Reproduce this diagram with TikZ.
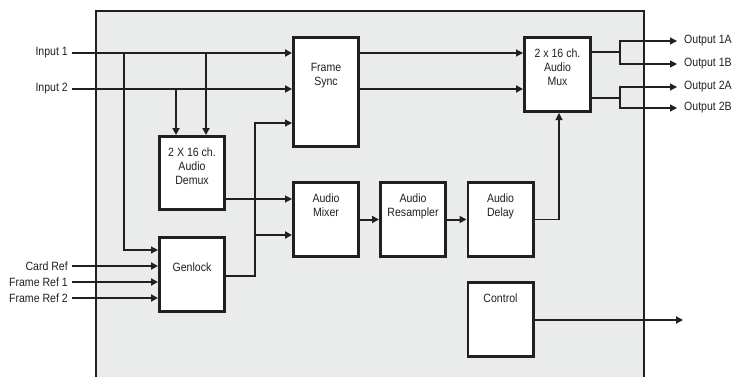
\documentclass[tikz,border=0pt]{standalone}
\usepackage{fontspec}
\setmainfont{Liberation Sans}[FakeStretch=0.88]
\usetikzlibrary{arrows.meta}
\definecolor{panel}{HTML}{EAEBEB}
\definecolor{ink}{HTML}{231F20}
\tikzset{
  txt/.style={font=\fontsize{12}{14}\selectfont, align=center, text=ink},
  blk/.style={draw=ink, line width=2.7pt, fill=white, inner sep=0pt,
    minimum width=65.3pt, minimum height=74.3pt},
  toptext/.style={label={[txt,anchor=north,yshift=-9.4pt]north:#1}},
  midtext/.style={label={[txt,anchor=north,yshift=-23.4pt]north:#1}},
  thk/.style={draw=ink, line width=2pt},
  thn/.style={draw=ink, line width=1.1pt},
}
\begin{document}
\begin{tikzpicture}[x=1pt,y=-1pt,>={Triangle[length=7pt,width=7pt]}]
  \useasboundingbox (0,0) rectangle (735,377);
  % card outline
  \fill[panel] (96,11) rectangle (644,377);
  \draw[thn] (96,377) -- (96,11) -- (644,11) -- (644,377);

  % blocks
  \node[blk, minimum height=109.3pt, midtext={Frame\\Sync}] (fs) at (326,92) {};
  \node[blk, minimum width=66.3pt, toptext={2 x 16 ch.\\Audio\\Mux}] (mux) at (557.5,74.5) {};
  \node[blk, minimum height=73.3pt, toptext={2 X 16 ch.\\Audio\\Demux}] (demux) at (192,173) {};
  \node[blk, toptext={Audio\\Mixer}] (mix) at (326,219.5) {};
  \node[blk, toptext={Audio\\Resampler}] (res) at (413,219.5) {};
  \node[blk, toptext={Audio\\Delay}] (del) at (500.5,219.5) {};
  \node[blk, midtext={Genlock}] (gen) at (192,274.5) {};
  \node[blk, toptext={Control}] (ctl) at (500.5,319.5) {};

  % inputs
  \node[txt, anchor=east, inner xsep=4pt] (in1) at (72,53) {Input 1};
  \node[txt, anchor=east, inner xsep=4pt] (in2) at (72,89) {Input 2};
  \node[txt, anchor=east, inner xsep=4pt] (cref) at (72,266) {Card Ref};
  \node[txt, anchor=east, inner xsep=4pt] (fref1) at (72,282) {Frame Ref 1};
  \node[txt, anchor=east, inner xsep=4pt] (fref2) at (72,298) {Frame Ref 2};

  % outputs
  \node[txt, anchor=west, inner xsep=7pt] (out1a) at (677,41) {Output 1A};
  \node[txt, anchor=west, inner xsep=7pt] (out1b) at (677,64) {Output 1B};
  \node[txt, anchor=west, inner xsep=7pt] (out2a) at (677,87) {Output 2A};
  \node[txt, anchor=west, inner xsep=7pt] (out2b) at (677,108) {Output 2B};

  % branch points
  \coordinate (j1) at (124,53);
  \coordinate (j2) at (206,53);
  \coordinate (j3) at (176,89);
  \coordinate (j4) at (255,276);
  \coordinate (j5) at (255,235);
  \coordinate (s1) at (620,52);
  \coordinate (s2) at (620,98);
  \coordinate (ctlout) at (683,320);

  % video path
  \draw[thk,->] (in1) -- (fs.west |- in1);
  \draw[thk,->] (in2) -- (fs.west |- in2);
  \draw[thn,->] (j1) |- (gen.west |- 0,250);
  \draw[thk,->] (j2) -- (j2 |- demux.north);
  \draw[thk,->] (j3) -- (j3 |- demux.north);
  \draw[thk,->] (cref) -- (gen.west |- cref);
  \draw[thk,->] (fref1) -- (gen.west |- fref1);
  \draw[thk,->] (fref2) -- (gen.west |- fref2);
  \draw[thn,->] (gen.east |- j4) -- (j4) |- (fs.west |- 0,123);
  \draw[thk,->] (j5) -- (mix.west |- j5);
  \draw[thn,->] (fs.east |- in1) -- (mux.west |- in1);
  \draw[thk,->] (fs.east |- in2) -- (mux.west |- in2);

  % audio path
  \draw[thn,->] (demux.east |- 0,199) -- (mix.west |- 0,199);
  \draw[thk,->] (mix) -- (res);
  \draw[thk,->] (res) -- (del);
  \draw[thn,->] (del.east) -| ([xshift=1.5pt]mux.south);

  % outputs
  \draw[thk] (mux.east |- s1) -- (s1);
  \draw[thk] (mux.east |- s2) -- (s2);
  \draw[thn,->] (s1) |- (out1a.west);
  \draw[thn,->] (s1) |- (out1b.west);
  \draw[thn,->] (s2) |- (out2a.west);
  \draw[thn,->] (s2) |- (out2b.west);
  \draw[thk,->] (ctl.east |- ctlout) -- (ctlout);
\end{tikzpicture}
\end{document}
